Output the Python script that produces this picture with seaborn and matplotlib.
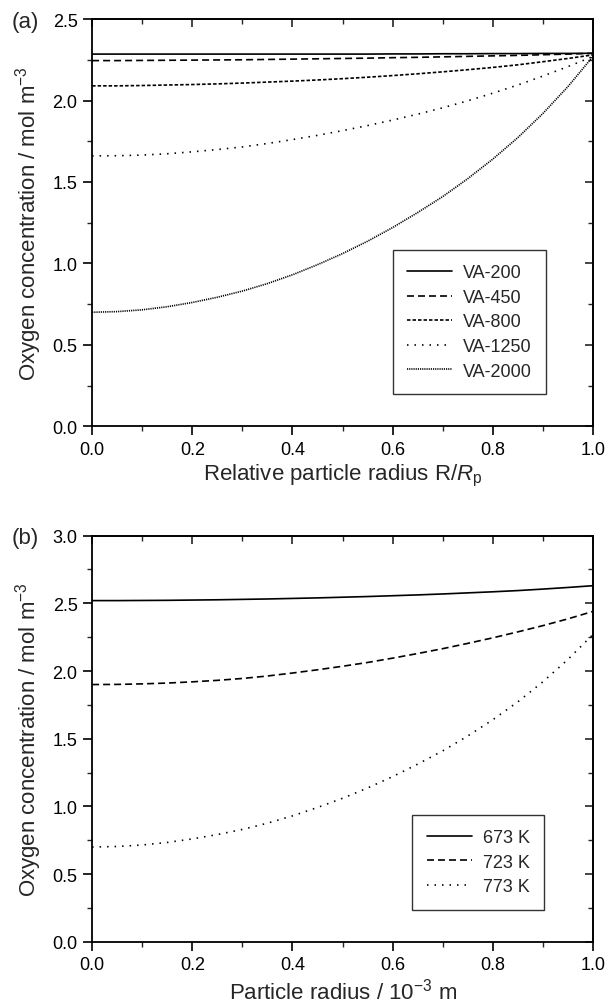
import numpy as np
import pandas as pd
import seaborn as sns
import matplotlib
matplotlib.use("Agg")
import matplotlib.pyplot as plt
from matplotlib.ticker import MultipleLocator

# ---------------- data ----------------
r_rel = [0.00, 0.05, 0.10, 0.15, 0.20, 0.25, 0.30, 0.35, 0.40, 0.45, 0.50,
         0.55, 0.60, 0.65, 0.70, 0.75, 0.80, 0.85, 0.90, 0.95, 1.00]
va_labels = ["VA-200", "VA-450", "VA-800", "VA-1250", "VA-2000"]
va200 = [2.285, 2.285, 2.285, 2.285, 2.285, 2.285, 2.285, 2.285, 2.285, 2.285, 2.285,
         2.285, 2.286, 2.286, 2.287, 2.287, 2.288, 2.288, 2.289, 2.289, 2.290]
va450 = [2.245, 2.245, 2.246, 2.247, 2.248, 2.249, 2.250, 2.252, 2.254, 2.256, 2.258,
         2.260, 2.263, 2.265, 2.268, 2.271, 2.274, 2.277, 2.281, 2.285, 2.290]
va800 = [2.090, 2.090, 2.092, 2.095, 2.098, 2.102, 2.107, 2.113, 2.119, 2.126, 2.134,
         2.143, 2.153, 2.164, 2.176, 2.189, 2.203, 2.219, 2.238, 2.258, 2.280]
va1250 = [1.660, 1.661, 1.665, 1.673, 1.685, 1.699, 1.715, 1.736, 1.760, 1.786, 1.815,
          1.846, 1.880, 1.916, 1.955, 1.998, 2.045, 2.095, 2.150, 2.208, 2.270]
va2000 = [0.700, 0.704, 0.715, 0.734, 0.760, 0.792, 0.830, 0.876, 0.930, 0.992, 1.060,
          1.136, 1.220, 1.312, 1.410, 1.520, 1.640, 1.772, 1.920, 2.085, 2.270]

r_abs = [0.00, 0.05, 0.10, 0.15, 0.20, 0.25, 0.30, 0.35, 0.40, 0.45, 0.50,
         0.55, 0.60, 0.65, 0.70, 0.75, 0.80, 0.85, 0.90, 0.95, 1.00]
t_labels = ["673 K", "723 K", "773 K"]
t673 = [2.520, 2.520, 2.521, 2.522, 2.524, 2.526, 2.529, 2.532, 2.536, 2.540, 2.545,
        2.550, 2.556, 2.562, 2.569, 2.577, 2.585, 2.594, 2.605, 2.617, 2.630]
t723 = [1.900, 1.901, 1.905, 1.911, 1.920, 1.931, 1.945, 1.963, 1.985, 2.009, 2.035,
        2.063, 2.095, 2.129, 2.165, 2.204, 2.245, 2.289, 2.335, 2.385, 2.440]
t773 = [0.700, 0.704, 0.715, 0.734, 0.760, 0.792, 0.830, 0.876, 0.930, 0.992, 1.060,
        1.136, 1.220, 1.312, 1.410, 1.520, 1.640, 1.772, 1.920, 2.085, 2.270]

sns.set_theme(style="ticks")
plt.rcParams["font.family"] = ["Liberation Sans", "DejaVu Sans"]
plt.rcParams["mathtext.fontset"] = "custom"
plt.rcParams["mathtext.rm"] = "Liberation Sans"
plt.rcParams["mathtext.it"] = "Liberation Sans:italic"

fig = plt.figure(figsize=(6.10, 10.03), dpi=100)
axa = fig.add_axes([0.151, 0.574, 0.821, 0.406])
axb = fig.add_axes([0.151, 0.060, 0.821, 0.405])

df_a = pd.DataFrame({
    "r": r_rel * 5,
    "c": va200 + va450 + va800 + va1250 + va2000,
    "series": sum([[l] * len(r_rel) for l in va_labels], []),
})
df_b = pd.DataFrame({
    "r": r_abs * 3,
    "c": t673 + t723 + t773,
    "series": sum([[l] * len(r_abs) for l in t_labels], []),
})

dash_a = ["", (4.2, 2.4), (2.1, 1.2), (0.9, 3.6), (0.7, 0.6)]
dash_b = ["", (4.2, 2.4), (0.9, 3.6)]

sns.lineplot(data=df_a, x="r", y="c", style="series", style_order=va_labels,
             dashes=dash_a, color="black", linewidth=1.2, ax=axa, legend=True)
sns.lineplot(data=df_b, x="r", y="c", style="series", style_order=t_labels,
             dashes=dash_b, color="black", linewidth=1.2, ax=axb, legend=True)


def style_axes(ax, ymax, xlabel, panel):
    ax.set_xlim(0, 1.0)
    ax.set_ylim(0, ymax)
    ax.xaxis.set_major_locator(MultipleLocator(0.2))
    ax.xaxis.set_minor_locator(MultipleLocator(0.1))
    ax.yaxis.set_major_locator(MultipleLocator(0.5))
    ax.yaxis.set_minor_locator(MultipleLocator(0.25))
    ax.xaxis.set_major_formatter(plt.FuncFormatter(lambda v, p: f"{v:.1f}"))
    ax.yaxis.set_major_formatter(plt.FuncFormatter(lambda v, p: f"{v:.1f}"))
    ax.tick_params(which="major", direction="out", length=6.5, width=1.2,
                   labelsize=13, colors="black", pad=4)
    ax.tick_params(which="minor", direction="out", length=3.5, width=1.0)
    for s in ax.spines.values():
        s.set_linewidth(1.3)
        s.set_color("black")
        s.set_visible(True)
    top = ax.secondary_xaxis("top")
    top.xaxis.set_major_locator(MultipleLocator(0.2))
    top.xaxis.set_minor_locator(MultipleLocator(0.1))
    top.tick_params(which="major", direction="in", length=6, width=1.2, labeltop=False)
    top.tick_params(which="minor", direction="in", length=3.5, width=1.0)
    top.spines["top"].set_linewidth(1.3)
    right = ax.secondary_yaxis("right")
    right.yaxis.set_major_locator(MultipleLocator(0.5))
    right.yaxis.set_minor_locator(MultipleLocator(0.25))
    right.tick_params(which="major", direction="in", length=6, width=1.2, labelright=False)
    right.tick_params(which="minor", direction="in", length=3.5, width=1.0)
    right.spines["right"].set_linewidth(1.3)
    ax.set_xlabel(xlabel, fontsize=16, labelpad=3)
    ax.set_ylabel("Oxygen concentration / mol m$^{-3}$", fontsize=16, labelpad=6)
    bb = ax.get_position()
    fig.text(0.019, bb.y1 - 0.002, panel, fontsize=16, ha="left", va="center")


style_axes(axa, 2.5, "Relative particle radius R/$\\mathit{R}_\\mathrm{p}$", "(a)")
style_axes(axb, 3.0, "Particle radius / 10$^{-3}$ m", "(b)")

for ax, loc in [(axa, (0.60, 0.079)), (axb, (0.639, 0.079))]:
    h, l = ax.get_legend_handles_labels()
    leg = ax.legend(h, l, loc="lower left", bbox_to_anchor=loc, frameon=True,
                    fancybox=False, edgecolor="black", fontsize=13,
                    handlelength=2.5, handletextpad=0.6, labelspacing=0.42,
                    borderpad=0.8, borderaxespad=0)
    leg.get_frame().set_linewidth(1.0)

fig.savefig("out.png", dpi=100)
